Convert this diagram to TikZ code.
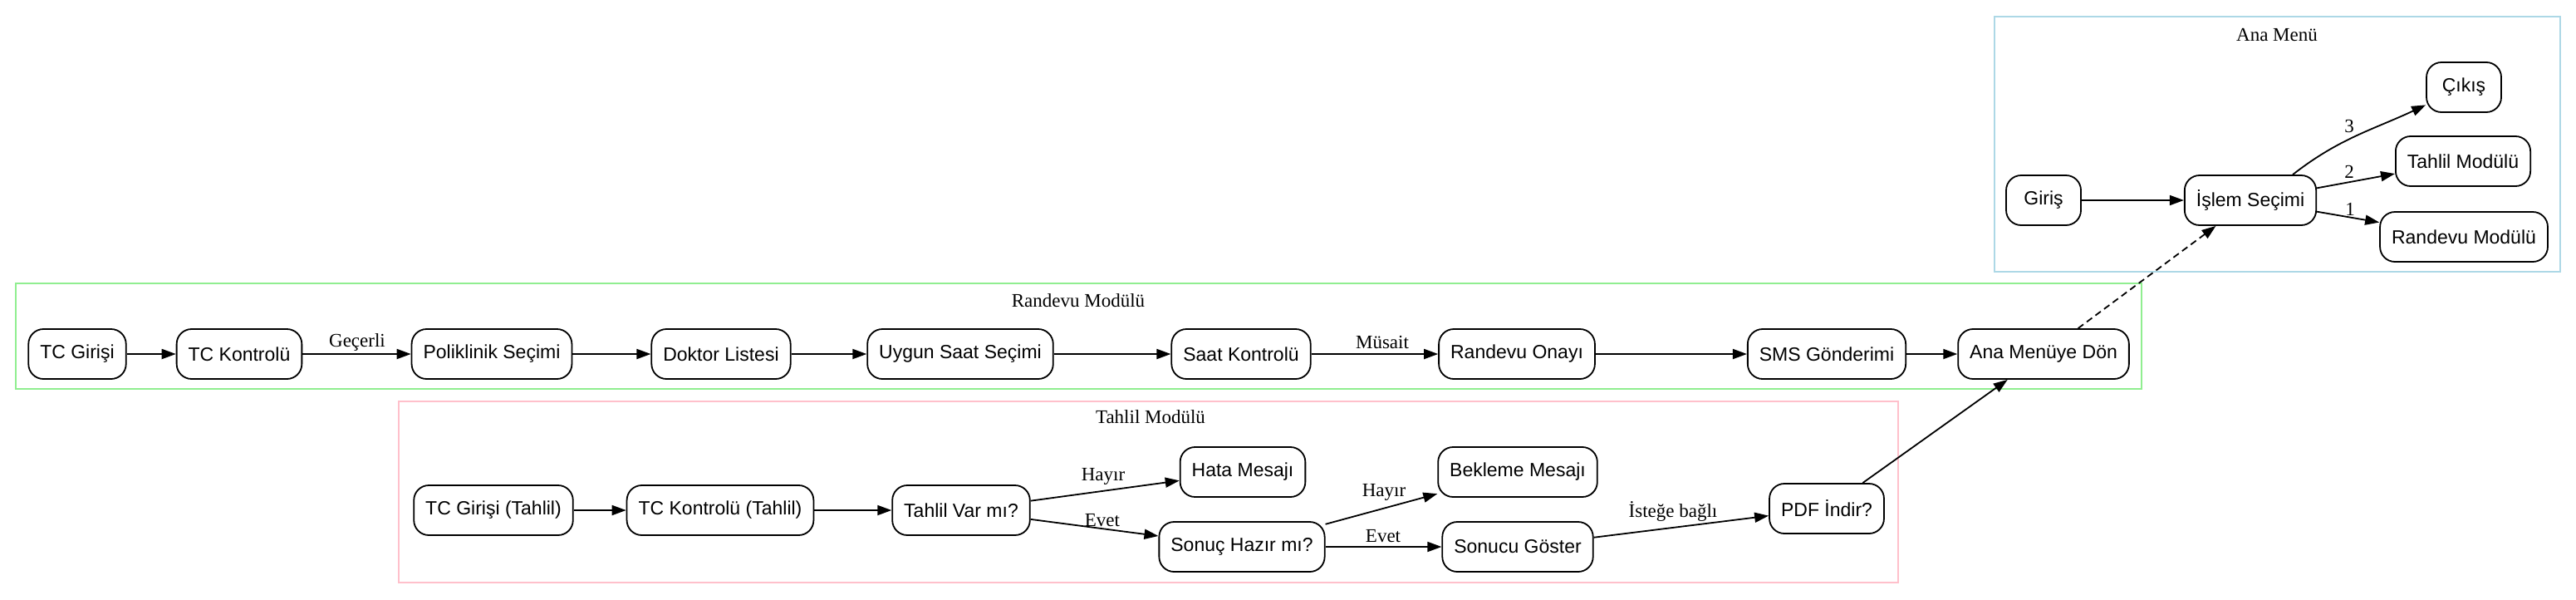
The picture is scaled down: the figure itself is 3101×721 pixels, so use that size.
\documentclass[tikz,border=0pt]{standalone}
\usepackage{fontspec}
\setmainfont{Liberation Serif}
\newfontfamily\arialf{Liberation Sans}
\usetikzlibrary{arrows.meta}
\definecolor{clblue}{HTML}{ADD8E6}
\definecolor{clgreen}{HTML}{90EE90}
\definecolor{clpink}{HTML}{FFC0CB}
\begin{document}
\begin{tikzpicture}[x=1pt,y=-1pt,
  box/.style={draw, line width=1.8pt, rounded corners=18pt, minimum height=60pt, minimum width=90pt, inner xsep=14pt, font=\arialf\fontsize{23}{27}\selectfont},
  elabel/.style={font=\fontsize{23}{27}\selectfont, inner sep=0pt},
  ctitle/.style={font=\fontsize{23}{27}\selectfont, inner sep=0pt},
  arr/.style={line width=1.8pt, -{Triangle[length=17pt,width=12pt]}},
  cluster/.style={line width=2pt}
]
\useasboundingbox (0,0) rectangle (3101,721);
% clusters
\draw[cluster, draw=clblue] (2401,20) rectangle (3082,327);
\draw[cluster, draw=clgreen] (19,341) rectangle (2578,468);
\draw[cluster, draw=clpink] (480,483) rectangle (2285,701);
\node[ctitle] (tAna) at (2741,42) {Ana Menü};
\node[ctitle] (tRan) at (1298,362) {Randevu Modülü};
\node[ctitle] (tTah) at (1385,502) {Tahlil Modülü};
% Ana Menu
\node[box] (gir) at (2460,241) {Giriş};
\node[box] (isl) at (2709,241) {İşlem Seçimi};
\node[box] (cik) at (2966,105) {Çıkış};
\node[box] (tmod) at (2965,194) {Tahlil Modülü};
\node[box] (rmod) at (2966,285) {Randevu Modülü};
% Randevu
\node[box] (tcg) at (93,426) {TC Girişi};
\node[box] (tck) at (288,426) {TC Kontrolü};
\node[box] (pol) at (592,426) {Poliklinik Seçimi};
\node[box] (dok) at (868,426) {Doktor Listesi};
\node[box] (uyg) at (1156,426) {Uygun Saat Seçimi};
\node[box] (sak) at (1494,426) {Saat Kontrolü};
\node[box] (ron) at (1826,426) {Randevu Onayı};
\node[box] (sms) at (2199,426) {SMS Gönderimi};
\node[box] (amd) at (2460,426) {Ana Menüye Dön};
% Tahlil
\node[box] (ttg) at (594,614) {TC Girişi (Tahlil)};
\node[box] (ttk) at (867,614) {TC Kontrolü (Tahlil)};
\node[box] (tvar) at (1157,614) {Tahlil Var mı?};
\node[box] (hata) at (1496,568) {Hata Mesajı};
\node[box] (son) at (1495,658) {Sonuç Hazır mı?};
\node[box] (bek) at (1827,568) {Bekleme Mesajı};
\node[box] (sgo) at (1827,658) {Sonucu Göster};
\node[box] (pdf) at (2199,612) {PDF İndir?};
% edges Ana Menu
\draw[arr] (gir) -- (isl);
\draw[arr] (isl) -- (rmod);
\draw[arr] (isl) -- (tmod);
\draw[arr] ([xshift=51pt]isl.north) to[out=38,in=205] (cik);
\node[elabel] (l1) at (2829,252) {1};
\node[elabel] (l2) at (2828,207) {2};
\node[elabel] (l3) at (2828,152) {3};
% edges Randevu
\draw[arr] (tcg) -- (tck);
\draw[arr] (tck) -- (pol);
\draw[arr] (pol) -- (dok);
\draw[arr] (dok) -- (uyg);
\draw[arr] (uyg) -- (sak);
\draw[arr] (sak) -- (ron);
\draw[arr] (ron) -- (sms);
\draw[arr] (sms) -- (amd);
\node[elabel] (lg) at (430,412) {Geçerli};
\node[elabel] (lm) at (1664,412) {Müsait};
\draw[arr, dashed, dash pattern=on 8pt off 5pt] (amd) -- (isl);
% edges Tahlil
\draw[arr] (ttg) -- (ttk);
\draw[arr] (ttk) -- (tvar);
\draw[arr] (tvar) -- (hata);
\draw[arr] (tvar) -- (son);
\draw[arr] (son) -- (bek);
\draw[arr] (son) -- (sgo);
\draw[arr] (sgo) -- (pdf);
\draw[arr] (pdf) -- (amd);
\node[elabel] (lh1) at (1328,573) {Hayır};
\node[elabel] (le1) at (1327,626) {Evet};
\node[elabel] (lh2) at (1666,592) {Hayır};
\node[elabel] (le2) at (1665,645) {Evet};
\node[elabel] (li) at (2014,615) {İsteğe bağlı};
\end{tikzpicture}
\end{document}
